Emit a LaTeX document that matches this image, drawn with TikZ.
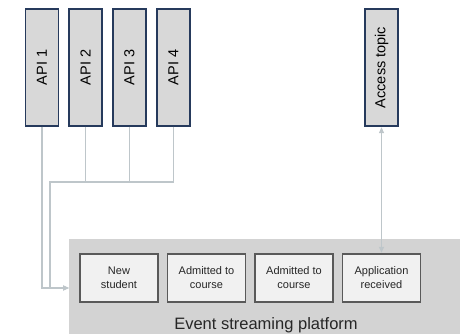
\documentclass[tikz,border=0pt]{standalone}
\usepackage{fontspec}
\setmainfont{Liberation Sans}
\usetikzlibrary{arrows.meta}
\definecolor{apifill}{RGB}{216,216,216}
\definecolor{apiborder}{RGB}{38,58,92}
\definecolor{platfill}{RGB}{211,211,211}
\definecolor{evfill}{RGB}{241,241,241}
\definecolor{evborder}{RGB}{89,89,89}
\definecolor{conn}{RGB}{190,198,202}
\tikzset{
  apibox/.style={draw=apiborder, fill=apifill, line width=1.3pt, minimum width=33pt, minimum height=117pt, inner sep=0pt, text=black!85},
  apitext/.style={font=\fontsize{14.5}{17}\selectfont, rotate=90},
  evbox/.style={draw=evborder, fill=evfill, line width=1.4pt, minimum width=78pt, minimum height=48pt, inner sep=0pt, align=center, font=\fontsize{11}{14}\selectfont, text=black!85},
  connector/.style={draw=conn, line width=1.2pt},
  tip/.style={-{Triangle[length=6pt,width=5pt]}}
}
\begin{document}
\begin{tikzpicture}[x=1pt,y=-1pt]
\useasboundingbox (0,0) rectangle (461,334);
% platform
\node[fill=platfill, minimum width=391pt, minimum height=95pt, inner sep=0pt, anchor=north west] (plat) at (69,239) {};
\node[anchor=base, font=\fontsize{16.5}{19}\selectfont, text=black!85] (platlabel) at (266,329) {Event streaming platform};
% API boxes
\node[apibox] (api1) at (42,67.5) {};
\node[apitext] (t1) at (api1) {API 1};
\node[apibox] (api2) at (85.5,67.5) {};
\node[apitext] (t2) at (api2) {API 2};
\node[apibox] (api3) at (129.5,67.5) {};
\node[apitext] (t3) at (api3) {API 3};
\node[apibox] (api4) at (173.5,67.5) {};
\node[apitext] (t4) at (api4) {API 4};
\node[apibox] (access) at (381.5,67.5) {};
\node[apitext] (ta) at (access) {Access topic};
% event boxes
\node[evbox] (ev1) at (119,278) {New\\student};
\node[evbox] (ev2) at (206.5,278) {Admitted to\\course};
\node[evbox] (ev3) at (294,278) {Admitted to\\course};
\node[evbox] (ev4) at (381.5,278) {Application\\received};
% connectors
\coordinate (in) at (69,288);
\coordinate (busL) at (50,182);
\draw[connector, tip] (api1.south) |- (in);
\draw[connector, tip] (api4.south) |- (busL) |- (in);
\draw[connector] (api2.south) -- (api2.south |- busL);
\draw[connector] (api3.south) -- (api3.south |- busL);
\draw[connector, {Triangle[length=6pt,width=5pt]}-{Triangle[length=6pt,width=5pt]}, shorten <=0.5pt, shorten >=0.5pt] (ev4.north) -- (access.south);
\end{tikzpicture}
\end{document}
